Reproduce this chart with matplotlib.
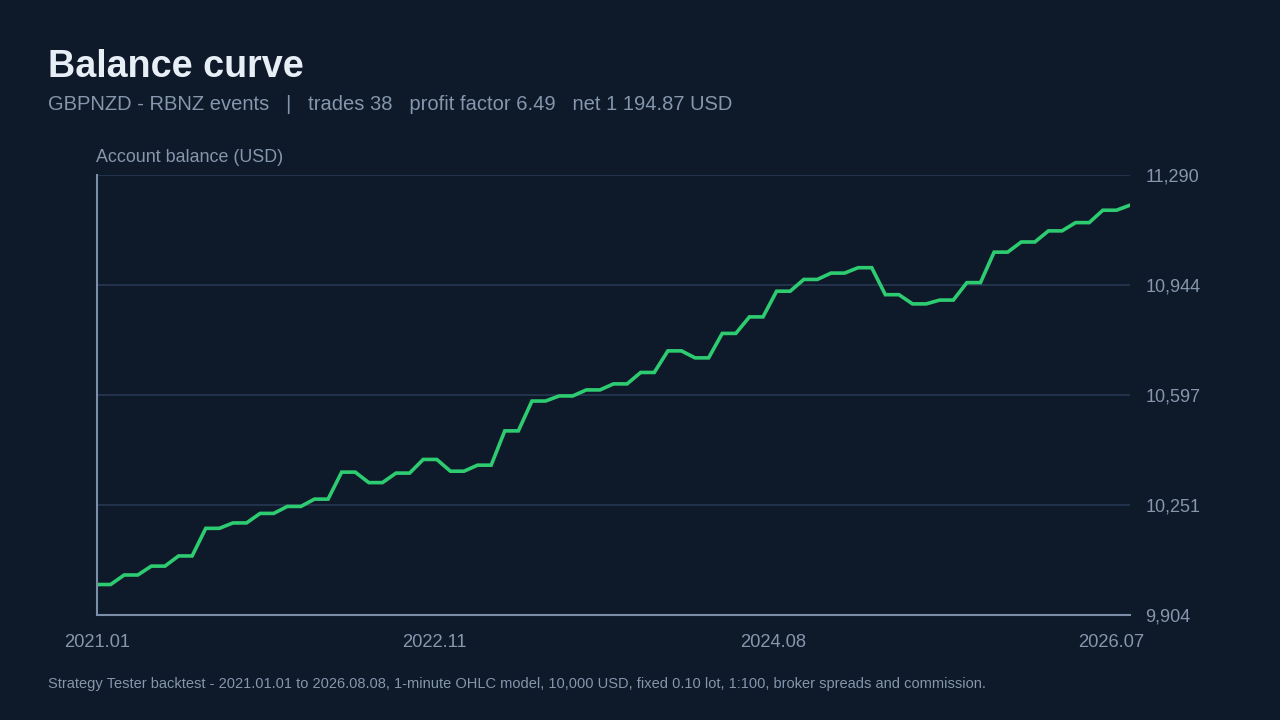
import numpy as np
import matplotlib.pyplot as plt

plt.rcParams['font.family'] = ['Liberation Sans', 'DejaVu Sans']

# Balance after each closed trade (first value = starting deposit)
balance = [10000, 10030, 10058, 10090, 10177, 10194, 10224, 10246, 10269, 10354,
           10321, 10351, 10394, 10357, 10376, 10484, 10578, 10594, 10613, 10632,
           10668, 10736, 10714, 10791, 10843, 10924, 10961, 10981, 10998, 10913,
           10884, 10896, 10951, 11047, 11079, 11114, 11140, 11179, 11194.87]
date_labels = ['2021.01', '2022.11', '2024.08', '2026.07']
date_frac = [0.0, 0.327, 0.655, 0.982]
y_ticks = [9904, 10250.5, 10597, 10943.5, 11290]
y_labels = ['9,904', '10,251', '10,597', '10,944', '11,290']

BG = '#0e1929'
GRID = '#22324a'
SPINE = '#7d8fa8'
MUTED = '#8596ad'
GREEN = '#2ecc71'

# each balance level is held flat, then moves to the next one
yy = np.repeat(balance, 2)[:-1]
xx = np.arange(len(yy))

fig = plt.figure(figsize=(12.8, 7.2), dpi=100, facecolor=BG)
ax = fig.add_axes([97 / 1280, 105 / 720, 1033 / 1280, 440 / 720])
ax.set_facecolor(BG)

ax.plot(xx, yy, color=GREEN, lw=2.6, solid_joinstyle='miter', zorder=3)

ax.set_xlim(0, xx[-1])
ax.set_ylim(y_ticks[0], y_ticks[-1])
ax.set_yticks(y_ticks)
ax.set_yticklabels(y_labels)
ax.set_xticks([f * xx[-1] for f in date_frac])
ax.set_xticklabels(date_labels)

ax.yaxis.tick_right()
ax.tick_params(axis='y', length=0, pad=11, labelsize=13, labelcolor=MUTED)
ax.tick_params(axis='x', length=0, pad=14, labelsize=13.2, labelcolor=MUTED)
ax.grid(axis='y', color=GRID, lw=1.5, zorder=0)
ax.grid(axis='x', visible=False)

for s in ['top', 'right']:
    ax.spines[s].set_visible(False)
for s in ['left', 'bottom']:
    ax.spines[s].set_color(SPINE)
    ax.spines[s].set_linewidth(1.5)
    ax.spines[s].set_zorder(4)

fig.text(48 / 1280, 1 - 77 / 720, 'Balance curve', fontsize=27.2, fontweight='bold',
         color='#e8eef6', ha='left', va='baseline')
fig.text(48 / 1280, 1 - 110 / 720,
         'GBPNZD - RBNZ events   |   trades 38   profit factor 6.49   net 1 194.87 USD',
         fontsize=14.5, color=MUTED, ha='left', va='baseline')
fig.text(96 / 1280, 1 - 162 / 720, 'Account balance (USD)', fontsize=12.9,
         color=MUTED, ha='left', va='baseline')
fig.text(48 / 1280, 1 - 688 / 720,
         'Strategy Tester backtest - 2021.01.01 to 2026.08.08, 1-minute OHLC model, '
         '10,000 USD, fixed 0.10 lot, 1:100, broker spreads and commission.',
         fontsize=10.5, color=MUTED, ha='left', va='baseline')

fig.savefig('out.png', dpi=100, facecolor=BG)
